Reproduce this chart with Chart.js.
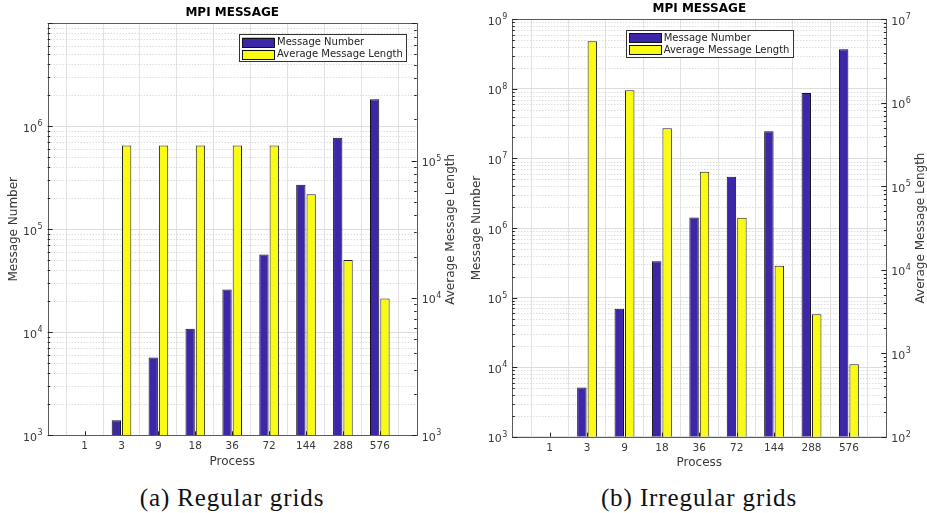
<!DOCTYPE html>
<html>
<head>
<meta charset="utf-8">
<script src="https://cdn.jsdelivr.net/npm/chart.js@4.4.0/dist/chart.umd.min.js"></script>
<style>
  body { margin: 0; background: #fff; width: 927px; height: 513px; position: relative; overflow: hidden; }
  .box { position: absolute; top: 0; height: 475px; }
  #boxA { left: 0; width: 462px; }
  #boxB { left: 462px; width: 465px; }
  .cap { position: absolute; top: 485px; font-family: "Liberation Serif", serif; font-size: 25px; line-height: 25px;
         letter-spacing: 0.9px; color: #111; transform: translateX(-50%); white-space: nowrap; }
</style>
</head>
<body>
<div class="box" id="boxA"><canvas id="chartA"></canvas></div>
<div class="box" id="boxB"><canvas id="chartB"></canvas></div>
<div class="cap" style="left:232px">(a) Regular grids</div>
<div class="cap" style="left:699px">(b) Irregular grids</div>

<script>
// datos
const processes = ["1", "3", "9", "18", "36", "72", "144", "288", "576"];
const regularNumber = [null, 1400, 5700, 10800, 26000, 57000, 270000, 775000, 1830000];
const regularLength = [null, 129000, 129000, 129000, 129000, 129000, 57000, 18900, 9900];
const irregularNumber = [null, 5100, 69000, 333000, 1410000, 5470000, 24600000, 87300000, 371000000];
const irregularLength = [null, 5450000, 1410000, 495000, 149000, 42000, 11200, 2930, 740];

const seriesNames = ["Message Number", "Average Message Length"];
const BLUE = "#3e26a8";
const YELLOW = "#f9fb15";
const FONT = "DejaVu Sans";
const TXT = "#383838";

Chart.defaults.font.family = FONT;

function isDecade(v) {
  const e = Math.log10(v);
  return Math.abs(e - Math.round(e)) < 1e-6;
}

// rejilla menor punteada, marco, marcas internas, etiquetas 10^n, título derecho y leyenda
const framePlugin = {
  id: "frame",
  beforeDatasetsDraw(chart) {
    const { ctx, chartArea: a, scales } = chart;
    const s = scales.yNum;
    ctx.save();
    ctx.strokeStyle = "#cdcdcd";
    ctx.lineWidth = 1;
    ctx.setLineDash([1, 2]);
    const e0 = Math.round(Math.log10(s.min)), e1 = Math.round(Math.log10(s.max));
    for (let e = e0; e < e1; e++) {
      for (let m = 2; m <= 9; m++) {
        const y = Math.round(s.getPixelForValue(m * Math.pow(10, e))) + 0.5;
        ctx.beginPath();
        ctx.moveTo(a.left, y);
        ctx.lineTo(a.right, y);
        ctx.stroke();
      }
    }
    ctx.restore();
  },
  afterDatasetsDraw(chart, args, opts) {
    const { ctx, chartArea: a, scales } = chart;
    ctx.save();
    ctx.strokeStyle = "#5a5a5a";
    ctx.lineWidth = 1;
    ctx.strokeRect(Math.round(a.left) + 0.5, Math.round(a.top) + 0.5,
      Math.round(a.right) - Math.round(a.left), Math.round(a.bottom) - Math.round(a.top));

    // marcas del eje x
    ctx.strokeStyle = "#222";
    for (let i = 1; i <= processes.length; i++) {
      const x = Math.round(scales.x.getPixelForTick(i)) + 0.5;
      ctx.beginPath();
      ctx.moveTo(x, a.bottom);
      ctx.lineTo(x, a.bottom - 4);
      ctx.stroke();
    }
    // marcas y etiquetas de los ejes y
    [["yNum", a.left, 1], ["yLen", a.right, -1]].forEach(([id, x0, dir]) => {
      const s = scales[id];
      const e0 = Math.round(Math.log10(s.min)), e1 = Math.round(Math.log10(s.max));
      for (let e = e0; e <= e1; e++) {
        for (let m = 1; m <= 9; m++) {
          const v = m * Math.pow(10, e);
          if (v > s.max * 1.0001) break;
          const y = Math.round(s.getPixelForValue(v)) + 0.5;
          const len = m === 1 ? 5 : 2.5;
          ctx.beginPath();
          ctx.moveTo(x0, y);
          ctx.lineTo(x0 + dir * len, y);
          ctx.stroke();
        }
        if (e === e1 && opts.hideTop) continue;
        // etiqueta 10 con exponente
        const y = s.getPixelForValue(Math.pow(10, e));
        const exp = String(e);
        ctx.fillStyle = TXT;
        ctx.textBaseline = "alphabetic";
        ctx.textAlign = "left";
        ctx.font = "11px " + FONT;
        const wb = ctx.measureText("10").width;
        ctx.font = "8px " + FONT;
        const we = ctx.measureText(exp).width;
        const xs = dir === 1 ? x0 - 5 - wb - we - 0.5 : x0 + 5;
        ctx.font = "11px " + FONT;
        ctx.fillText("10", xs, y + 5.5);
        ctx.font = "8px " + FONT;
        ctx.fillText(exp, xs + wb + 0.5, y);
      }
    });

    // título del eje derecho, leído de abajo hacia arriba
    ctx.fillStyle = TXT;
    ctx.font = "12px " + FONT;
    ctx.textAlign = "center";
    ctx.textBaseline = "middle";
    ctx.translate(opts.rightTitleX, (a.top + a.bottom) / 2);
    ctx.rotate(-Math.PI / 2);
    ctx.fillText(seriesNames[1], 0, 0);
    ctx.restore();
  },
  afterDraw(chart, args, opts) {
    const { ctx, chartArea: a } = chart;
    const ds = chart.data.datasets;
    ctx.save();
    ctx.font = "10px " + FONT;
    const tw = Math.max(...ds.map((d) => ctx.measureText(d.label).width));
    const w = 3.3 + 32 + 2.7 + tw + 3.5;
    const h = 27.4;
    const x = opts.anchor === "right" ? a.right - opts.dx - w : a.left + opts.dx;
    const y = a.top + opts.dy;
    ctx.fillStyle = "#fff";
    ctx.fillRect(x, y, w, h);
    ctx.strokeStyle = "#333";
    ctx.lineWidth = 1;
    ctx.strokeRect(Math.round(x) + 0.5, Math.round(y) + 0.5, Math.round(w), Math.round(h));
    ds.forEach((d, i) => {
      const cy = y + 8 + i * 12;
      ctx.fillStyle = d.backgroundColor;
      ctx.fillRect(x + 3.3, cy - 4.6, 32, 9.3);
      ctx.strokeStyle = "#111";
      ctx.strokeRect(Math.round(x + 3.3) + 0.5, Math.round(cy - 4.6) + 0.5, 32, 9);
      ctx.fillStyle = "#222";
      ctx.textAlign = "left";
      ctx.textBaseline = "middle";
      ctx.fillText(d.label, x + 3.3 + 32 + 2.7, cy + 0.5);
    });
    ctx.restore();
  },
};

function makeChart(id, numbers, lengths, cfg) {
  const pad = (arr) => [null, ...arr, null];
  return new Chart(document.getElementById(id), {
    type: "bar",
    data: {
      labels: ["", ...processes, ""],
      datasets: [
        {
          label: seriesNames[0],
          data: pad(numbers),
          yAxisID: "yNum",
          backgroundColor: BLUE,
          borderColor: "#111",
          borderWidth: 1,
          categoryPercentage: 0.56,
          barPercentage: 0.9,
        },
        {
          label: seriesNames[1],
          data: pad(lengths),
          yAxisID: "yLen",
          backgroundColor: YELLOW,
          borderColor: "#222",
          borderWidth: 1,
          categoryPercentage: 0.56,
          barPercentage: 0.9,
        },
      ],
    },
    options: {
      responsive: true,
      maintainAspectRatio: false,
      animation: false,
      layout: { padding: 0 },
      plugins: {
        legend: { display: false },
        tooltip: { enabled: false },
        title: {
          display: true,
          text: "MPI MESSAGE",
          fullSize: false,
          color: "#000",
          font: { family: FONT, size: 12, weight: "bold" },
          padding: cfg.titlePad,
        },
        frame: {
          rightTitleX: cfg.rightTitleX, hideTop: cfg.hideTop,
          anchor: cfg.legAnchor, dx: cfg.legDx, dy: cfg.legDy,
        },
      },
      scales: {
        x: {
          offset: false,
          grid: { color: "#e2e2e2", drawTicks: false },
          border: { display: false },
          ticks: { font: { family: FONT, size: 10.5 }, color: TXT, padding: cfg.xTickPad, autoSkip: false, maxRotation: 0 },
          title: {
            display: true,
            text: "Process",
            color: TXT,
            font: { family: FONT, size: 12 },
            padding: { top: 0, bottom: cfg.xTitlePad },
          },
          afterFit: (s) => { s.height = cfg.xHeight; },
        },
        yNum: {
          type: "logarithmic",
          position: "left",
          min: cfg.numMin,
          max: cfg.numMax,
          grid: { color: (c) => (c.tick && isDecade(c.tick.value) ? "#dcdcdc" : "rgba(0,0,0,0)"), drawTicks: false },
          border: { display: false },
          ticks: { display: false, autoSkip: false },
          title: {
            display: true,
            text: seriesNames[0],
            color: TXT,
            font: { family: FONT, size: 12 },
            padding: { top: cfg.leftTitlePad, bottom: 0 },
          },
          afterFit: (s) => { s.width = cfg.leftW; },
        },
        yLen: {
          type: "logarithmic",
          position: "right",
          min: cfg.lenMin,
          max: cfg.lenMax,
          grid: { drawOnChartArea: false, drawTicks: false },
          border: { display: false },
          ticks: { display: false },
          afterFit: (s) => { s.width = cfg.rightW; },
        },
      },
    },
    plugins: [framePlugin],
  });
}

makeChart("chartA", regularNumber, regularLength, {
  numMin: 1e3, numMax: 1e7, lenMin: 1e3, lenMax: 1e6, hideTop: true,
  leftW: 47.7, rightW: 45.3, xHeight: 39.7,
  titlePad: { top: 5.8, bottom: 3.1 },
  xTickPad: 5, xTitlePad: 5.8, leftTitlePad: 6.8,
  rightTitleX: 451,
  legAnchor: "right", legDx: 10.4, legDy: 11,
});

makeChart("chartB", irregularNumber, irregularLength, {
  numMin: 1e3, numMax: 1e9, lenMin: 1e2, lenMax: 1e7, hideTop: false,
  leftW: 50.3, rightW: 40.7, xHeight: 38.3,
  titlePad: { top: 1.5, bottom: 3.4 },
  xTickPad: 5.5, xTitlePad: 4.5, leftTitlePad: 7.5,
  rightTitleX: 459,
  legAnchor: "left", legDx: 113.4, legDy: 10.4,
});
</script>
</body>
</html>
